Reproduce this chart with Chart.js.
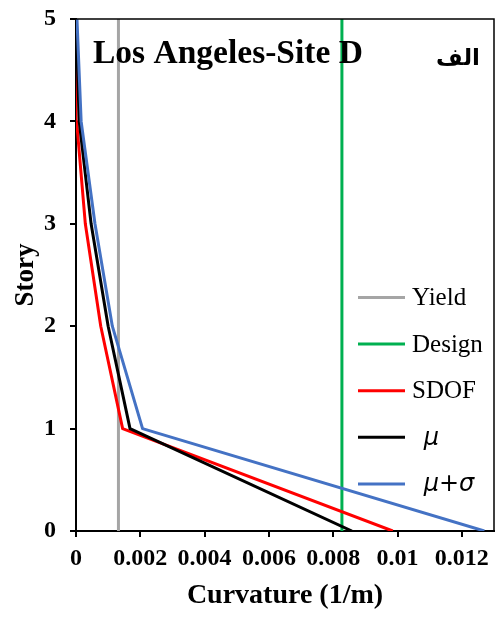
<!DOCTYPE html>
<html>
<head>
<meta charset="utf-8">
<script src="https://cdn.jsdelivr.net/npm/chart.js@4.4.0/dist/chart.umd.min.js"></script>
<style>
  html, body { margin: 0; padding: 0; background: #fff; }
</style>
</head>
<body>
<canvas id="storyChart" width="498" height="619"></canvas>
<script>
// story levels and curvature values (1/m)
const stories = [0, 1, 2, 3, 4, 5];
const sdof = [0.00985, 0.00145, 0.00077, 0.00029, 0.00002, 0];
const mu = [0.00858, 0.00168, 0.00100, 0.00047, 0.0001, 0];
const muSigma = [0.0127, 0.00207, 0.00113, 0.00059, 0.00016, 0.00003];

// vertical reference lines
const limitStories = [0, 5];
const yieldCurv = [0.00132, 0.00132];
const designCurv = [0.00827, 0.00827];

const xTicks = [0, 0.002, 0.004, 0.006, 0.008, 0.01, 0.012];
const yTicks = [0, 1, 2, 3, 4, 5];

const toPoints = (xs, ys) => xs.map((x, i) => ({ x: x, y: ys[i] }));

const serif = '"Liberation Serif", "Times New Roman", serif';

function lineSet(label, xs, ys, color, order, legendFont, legendX) {
    return {
        label: label,
        data: toPoints(xs, ys),
        borderColor: color,
        backgroundColor: color,
        borderWidth: 3,
        pointRadius: 0,
        tension: 0,
        borderJoinStyle: 'round',
        order: order,
        legendFont: legendFont,
        legendX: legendX
    };
}

// legend drawn inside the plot, like the original
const insideLegend = {
    id: 'insideLegend',
    afterDatasetsDraw(chart) {
        const ctx = chart.ctx;
        chart.data.datasets.forEach((ds, i) => {
            const y = 297.5 + i * 46.6;
            ctx.save();
            ctx.strokeStyle = ds.borderColor;
            ctx.lineWidth = 3;
            ctx.beginPath();
            ctx.moveTo(358, y);
            ctx.lineTo(405, y);
            ctx.stroke();
            ctx.fillStyle = '#000';
            ctx.font = ds.legendFont;
            ctx.textBaseline = 'middle';
            ctx.textAlign = 'left';
            ctx.fillText(ds.label, ds.legendX, y + 1);
            ctx.restore();
        });
    }
};

// frame on top/right plus the titles inside the plot
const frameAndTitle = {
    id: 'frameAndTitle',
    afterDraw(chart) {
        const ctx = chart.ctx;
        const a = chart.chartArea;
        ctx.save();
        ctx.strokeStyle = '#000';
        ctx.lineWidth = 1.5;
        ctx.beginPath();
        ctx.moveTo(a.left, a.top);
        ctx.lineTo(a.right, a.top);
        ctx.lineTo(a.right, a.bottom);
        ctx.stroke();

        ctx.fillStyle = '#000';
        ctx.textBaseline = 'alphabetic';
        ctx.textAlign = 'left';
        ctx.font = 'bold 33.5px ' + serif;
        ctx.fillText('Los Angeles-Site D', 93, 63);
        ctx.textAlign = 'right';
        ctx.font = 'bold 23px "DejaVu Sans", sans-serif';
        ctx.fillText('الف', 480, 65);
        ctx.restore();
    }
};

const ctx = document.getElementById('storyChart').getContext('2d');
new Chart(ctx, {
    type: 'line',
    data: {
        datasets: [
            lineSet('Yield', yieldCurv, limitStories, '#A5A5A5', 5, '25px ' + serif, 412),
            lineSet('Design', designCurv, limitStories, '#00B050', 4, '25px ' + serif, 412),
            lineSet('SDOF', sdof, stories, '#FF0000', 3, '25px ' + serif, 412),
            lineSet(' \u03BC', mu, stories, '#000000', 2, 'italic 24px "DejaVu Sans", sans-serif', 416),
            lineSet(' \u03BC+\u03C3', muSigma, stories, '#4472C4', 1, 'italic 24px "DejaVu Sans", sans-serif', 416)
        ]
    },
    options: {
        responsive: false,
        animation: false,
        devicePixelRatio: 1,
        layout: {
            padding: { top: 19, right: 4, left: 0, bottom: 0 }
        },
        plugins: {
            legend: { display: false },
            tooltip: { enabled: false }
        },
        scales: {
            x: {
                type: 'linear',
                min: 0,
                max: 0.013,
                afterBuildTicks: scale => { scale.ticks = xTicks.map(v => ({ value: v })); },
                afterFit: scale => {
                    scale.height = 88;
                    scale.paddingLeft = 0;
                    scale.paddingRight = 0;
                },
                ticks: {
                    color: '#000',
                    padding: 7,
                    font: { family: serif, size: 24, weight: 'bold' },
                    callback: v => v === 0 ? '0' : String(+v.toFixed(3))
                },
                grid: {
                    display: true,
                    drawOnChartArea: false,
                    drawTicks: true,
                    tickLength: 6,
                    color: '#000',
                    lineWidth: 2
                },
                border: { display: true, color: '#000', width: 2 },
                title: {
                    display: true,
                    text: 'Curvature (1/m)',
                    color: '#000',
                    font: { family: serif, size: 28, weight: 'bold' },
                    padding: { top: 0, bottom: 6 }
                }
            },
            y: {
                type: 'linear',
                min: 0,
                max: 5,
                afterBuildTicks: scale => { scale.ticks = yTicks.map(v => ({ value: v })); },
                afterFit: scale => {
                    scale.width = 76;
                    scale.paddingTop = 0;
                    scale.paddingBottom = 0;
                },
                ticks: {
                    color: '#000',
                    padding: 14,
                    font: { family: serif, size: 24, weight: 'bold' }
                },
                grid: {
                    display: true,
                    drawOnChartArea: false,
                    drawTicks: true,
                    tickLength: 6,
                    color: '#000',
                    lineWidth: 2
                },
                border: { display: true, color: '#000', width: 2 },
                title: {
                    display: true,
                    text: 'Story',
                    color: '#000',
                    font: { family: serif, size: 27, weight: 'bold' },
                    padding: { top: 10, bottom: 0 }
                }
            }
        }
    },
    plugins: [insideLegend, frameAndTitle]
});
</script>
</body>
</html>
